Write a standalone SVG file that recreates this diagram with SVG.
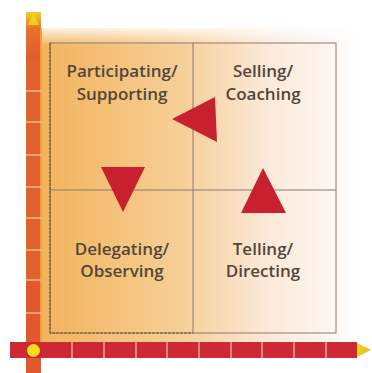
<svg xmlns="http://www.w3.org/2000/svg" width="372" height="373" viewBox="0 0 372 373">
  <defs>
    <linearGradient id="bgH" x1="42" y1="0" x2="355" y2="0" gradientUnits="userSpaceOnUse">
      <stop offset="0" stop-color="#f2b45c"/>
      <stop offset="0.45" stop-color="#f6cf98"/>
      <stop offset="0.72" stop-color="#fbe9d8"/>
      <stop offset="0.92" stop-color="#fdf6f0"/>
      <stop offset="1" stop-color="#ffffff"/>
    </linearGradient>
    <linearGradient id="bgFade" x1="0" y1="24" x2="0" y2="46" gradientUnits="userSpaceOnUse">
      <stop offset="0" stop-color="#ffffff" stop-opacity="1"/>
      <stop offset="1" stop-color="#ffffff" stop-opacity="0"/>
    </linearGradient>
    <linearGradient id="axisTop" x1="0" y1="12" x2="0" y2="60" gradientUnits="userSpaceOnUse">
      <stop offset="0" stop-color="#f6d020"/>
      <stop offset="0.35" stop-color="#e8702a"/>
      <stop offset="1" stop-color="#e05c2c"/>
    </linearGradient>
    <linearGradient id="axisRight" x1="357" y1="0" x2="372" y2="0" gradientUnits="userSpaceOnUse">
      <stop offset="0" stop-color="#f2d21a"/>
      <stop offset="1" stop-color="#e8b820"/>
    </linearGradient>
    <style>
      .lbl { font-family: "Open Sans", "Noto Sans", sans-serif; font-size: 17px; font-weight: 600; fill: #54463a; text-anchor: middle; }
      .tri { fill: #c8202e; }
      .sep { stroke: #f6e0c8; stroke-width: 1; }
      .grid { stroke: #8a7a70; stroke-width: 1; fill: none; }
    </style>
  </defs>

  <rect width="372" height="373" fill="#ffffff"/>

  <!-- shaded backdrop behind the grid -->
  <rect x="42" y="28" width="318" height="314" fill="url(#bgH)"/>
  <rect x="42" y="24" width="318" height="22" fill="url(#bgFade)"/>

  <!-- vertical axis -->
  <g id="axis-y">
    <rect x="26" y="12" width="15" height="48" fill="url(#axisTop)"/>
    <polygon points="28,25 33.5,13 39,25" fill="#f8d820" opacity="0.8"/>
    <rect x="26" y="60" width="15" height="220" fill="#df612c"/>
    <rect x="26" y="280" width="15" height="93" fill="#e2582e"/>
    <rect x="40" y="28" width="2" height="314" fill="#f0a040"/>
    <g class="sep">
      <line x1="26" y1="91" x2="41" y2="91"/>
      <line x1="26" y1="122" x2="41" y2="122"/>
      <line x1="26" y1="155" x2="41" y2="155"/>
      <line x1="26" y1="187" x2="41" y2="187"/>
      <line x1="26" y1="218" x2="41" y2="218"/>
      <line x1="26" y1="250" x2="41" y2="250"/>
      <line x1="26" y1="280" x2="41" y2="280"/>
      <line x1="26" y1="313" x2="41" y2="313"/>
    </g>
  </g>

  <!-- horizontal axis -->
  <g id="axis-x">
    <rect x="10" y="342" width="347" height="16" fill="#cc2836"/>
    <polygon points="357,343 371,350 357,357" fill="url(#axisRight)"/>
    <g class="sep">
      <line x1="72" y1="342" x2="72" y2="358"/>
      <line x1="104" y1="342" x2="104" y2="358"/>
      <line x1="136" y1="342" x2="136" y2="358"/>
      <line x1="167" y1="342" x2="167" y2="358"/>
      <line x1="199" y1="342" x2="199" y2="358"/>
      <line x1="231" y1="342" x2="231" y2="358"/>
      <line x1="262" y1="342" x2="262" y2="358"/>
      <line x1="294" y1="342" x2="294" y2="358"/>
      <line x1="326" y1="342" x2="326" y2="358"/>
    </g>
    <circle cx="33.5" cy="350.5" r="6.5" fill="#f6dc1c"/>
  </g>

  <!-- quadrant grid -->
  <g id="grid">
    <rect class="grid" x="50" y="43" width="286" height="290"/>
    <line class="grid" x1="193" y1="43" x2="193" y2="333"/>
    <line class="grid" x1="50" y1="190" x2="336" y2="190"/>
    <path d="M50,43 V333 H193" stroke="#7a5430" stroke-width="1.2" stroke-dasharray="3 1" fill="none"/>
  </g>

  <g id="q-participating">
    <text class="lbl" x="122" y="77">Participating/</text>
    <text class="lbl" x="122" y="100">Supporting</text>
  </g>
  <g id="q-selling">
    <text class="lbl" x="263" y="77">Selling/</text>
    <text class="lbl" x="263" y="100">Coaching</text>
  </g>
  <g id="q-delegating">
    <text class="lbl" x="122" y="255">Delegating/</text>
    <text class="lbl" x="122" y="277">Observing</text>
  </g>
  <g id="q-telling">
    <text class="lbl" x="263" y="255">Telling/</text>
    <text class="lbl" x="263" y="277">Directing</text>
  </g>

  <!-- direction markers -->
  <g id="connectors">
    <polygon class="tri" points="172,119 215,97 217,142"/>
    <polygon class="tri" points="101,167 145,167 123,212"/>
    <polygon class="tri" points="263,168 286,213 241,213"/>
  </g>
</svg>
